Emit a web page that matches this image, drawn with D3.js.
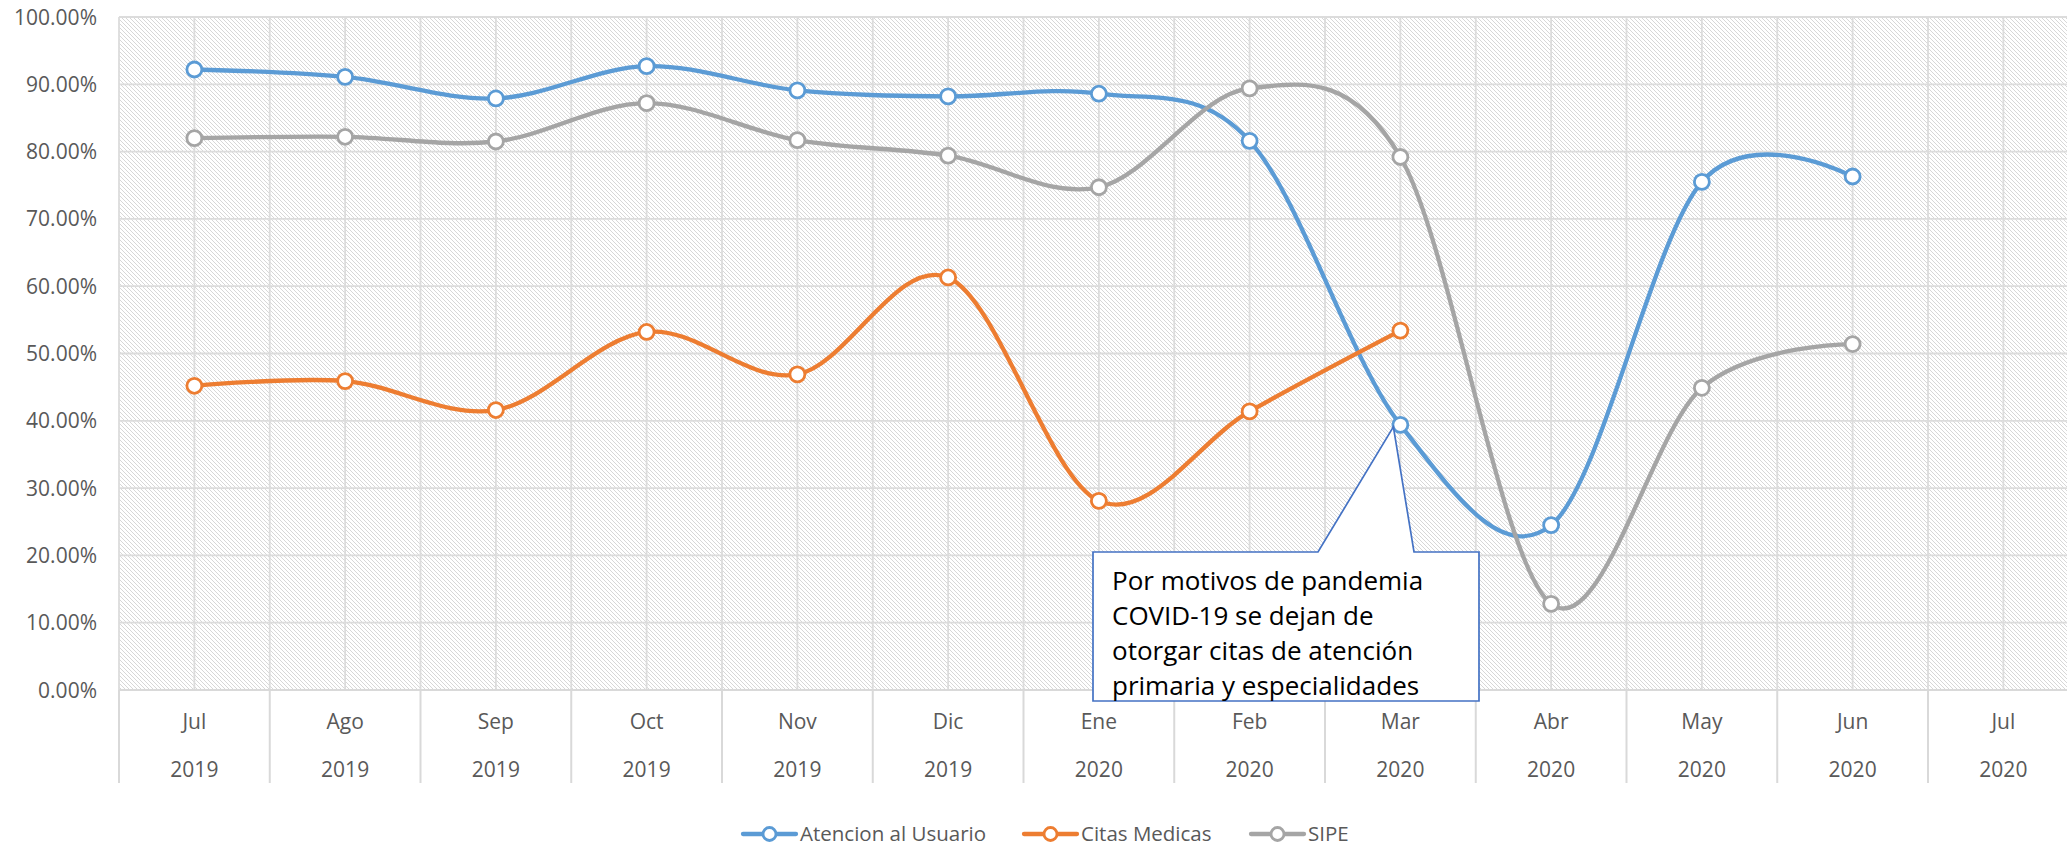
<!DOCTYPE html>
<html>
<head>
<meta charset="utf-8">
<script src="https://cdnjs.cloudflare.com/ajax/libs/d3/7.8.5/d3.min.js"></script>
<style>
  html, body { margin: 0; padding: 0; background: #fff; overflow: hidden; }
  svg { display: block; font-family: "Open Sans", sans-serif; }
  .tick-label { fill: #595959; font-size: 21px; }
  .legend-label { fill: #595959; font-size: 20.5px; }
  .note { fill: #000; font-size: 26px; }
</style>
</head>
<body>
<div id="chart"></div>
<script>
// data
var months = ["Jul", "Ago", "Sep", "Oct", "Nov", "Dic", "Ene", "Feb", "Mar", "Abr", "May", "Jun", "Jul"];
var years = ["2019", "2019", "2019", "2019", "2019", "2019", "2020", "2020", "2020", "2020", "2020", "2020", "2020"];
var atencionUsuario = [92.2, 91.1, 87.9, 92.7, 89.1, 88.2, 88.6, 81.6, 39.4, 24.5, 75.5, 76.3, null];
var citasMedicas = [45.2, 45.9, 41.6, 53.2, 46.9, 61.3, 28.1, 41.4, 53.4, null, null, null, null];
var sipe = [82.0, 82.2, 81.5, 87.2, 81.7, 79.4, 74.7, 89.4, 79.2, 12.8, 44.9, 51.4, null];
var seriesNames = ["Atencion al Usuario", "Citas Medicas", "SIPE"];
var seriesColors = ["#5B9BD5", "#ED7D31", "#A5A5A5"];
var yTicks = [0, 10, 20, 30, 40, 50, 60, 70, 80, 90, 100];
var noteLines = [
  "Por motivos de pandemia",
  "COVID-19 se dejan de",
  "otorgar citas de atención",
  "primaria y especialidades"
];

var width = 2067, height = 847;
var margins = { top: 17, left: 119, bottom: 157 };
var catWidth = 150.75;
var chartBottom = height - margins.bottom; // 690

var keys = months.map((m, i) => i);

var svg = d3.select("#chart").append("svg")
  .attr("width", width)
  .attr("height", height);

// hatch fill like the excel pattern
svg.append("defs").html(`
  <pattern id="hatch" patternUnits="userSpaceOnUse" width="4" height="4">
    <rect width="4" height="4" fill="#fff"/>
    <path d="M-1,-1 L5,5 M-1,3 L1,5 M3,-1 L5,1" stroke="#d2d2d2" stroke-width="0.9"/>
  </pattern>`);

var xScale = d3.scaleBand()
  .domain(keys)
  .range([margins.left, margins.left + catWidth * months.length]);
var xc = i => xScale(i) + xScale.bandwidth() / 2;

var yScale = d3.scaleLinear()
  .domain([0, 100])
  .range([chartBottom, margins.top]);

var plotRight = xScale.range()[1];

// plot area
svg.append("rect")
  .attr("x", margins.left)
  .attr("y", margins.top)
  .attr("width", plotRight - margins.left)
  .attr("height", chartBottom - margins.top)
  .attr("fill", "url(#hatch)");

// grid
var grid = svg.append("g").attr("class", "grid")
  .attr("stroke", "#dcdcdc")
  .attr("stroke-width", 1.8);

grid.selectAll("line.h")
  .data(yTicks.slice(1))
  .enter().append("line")
  .attr("x1", margins.left).attr("x2", plotRight)
  .attr("y1", d => yScale(d)).attr("y2", d => yScale(d));

// vertical lines on every category center and boundary
var halfSteps = d3.range(0, months.length * 2 + 1);
grid.selectAll("line.v")
  .data(halfSteps)
  .enter().append("line")
  .attr("x1", d => margins.left + d * catWidth / 2)
  .attr("x2", d => margins.left + d * catWidth / 2)
  .attr("y1", margins.top)
  .attr("y2", chartBottom);

// x axis line + separators
var axisG = svg.append("g")
  .attr("stroke", "#d9d9d9")
  .attr("stroke-width", 2);
axisG.append("line")
  .attr("x1", margins.left).attr("x2", plotRight)
  .attr("y1", chartBottom).attr("y2", chartBottom);
axisG.selectAll("line.sep")
  .data(d3.range(0, months.length + 1))
  .enter().append("line")
  .attr("x1", d => margins.left + d * catWidth)
  .attr("x2", d => margins.left + d * catWidth)
  .attr("y1", chartBottom)
  .attr("y2", chartBottom + 93);

// y labels
svg.append("g")
  .selectAll("text")
  .data(yTicks)
  .enter().append("text")
  .attr("class", "tick-label")
  .attr("x", 97)
  .attr("y", d => yScale(d))
  .attr("dy", "0.36em")
  .attr("text-anchor", "end")
  .text(d => d3.format(".2f")(d) + "%");

// x labels
var xl = svg.append("g");
xl.selectAll("text.m")
  .data(keys)
  .enter().append("text")
  .attr("class", "tick-label")
  .attr("x", d => xc(d))
  .attr("y", 729)
  .attr("text-anchor", "middle")
  .text(d => months[d]);
xl.selectAll("text.yr")
  .data(keys)
  .enter().append("text")
  .attr("class", "tick-label")
  .attr("x", d => xc(d))
  .attr("y", 777)
  .attr("text-anchor", "middle")
  .text(d => years[d]);

// lines
var allSeries = [atencionUsuario, citasMedicas, sipe];

var line = d3.line()
  .defined(d => d != null)
  .x((d, i) => xc(i))
  .y(d => yScale(d))
  .curve(d3.curveCardinal.tension(0));

var seriesG = svg.append("g");
allSeries.forEach((vals, s) => {
  var g = seriesG.append("g");
  g.append("path")
    .attr("d", line(vals))
    .attr("fill", "none")
    .attr("stroke", seriesColors[s])
    .attr("stroke-width", 4.3)
    .attr("stroke-linecap", "round");
  g.selectAll("circle")
    .data(vals.map((v, i) => ({ v, i })).filter(d => d.v != null))
    .enter().append("circle")
    .attr("cx", d => xc(d.i))
    .attr("cy", d => yScale(d.v))
    .attr("r", 7.5)
    .attr("fill", "#fff")
    .attr("stroke", seriesColors[s])
    .attr("stroke-width", 2.8);
});

// callout
var tipX = xc(8) - 7, tipY = yScale(atencionUsuario[8]) + 2;
var box = { x0: 1093, y0: 552, x1: 1479, y1: 701 };
svg.append("path")
  .attr("d", `M${box.x0},${box.y0} L1318,${box.y0} L${tipX},${tipY} L1414,${box.y0} L${box.x1},${box.y0} L${box.x1},${box.y1} L${box.x0},${box.y1} Z`)
  .attr("fill", "#fff")
  .attr("stroke", "#4472C4")
  .attr("stroke-width", 1.7);

svg.append("g")
  .selectAll("text")
  .data(noteLines)
  .enter().append("text")
  .attr("class", "note")
  .attr("x", 1112)
  .attr("y", (d, i) => 590 + i * 35)
  .text(d => d);

// legend
var legendX = [743, 1024, 1251];
var legend = svg.append("g");
seriesNames.forEach((name, s) => {
  var g = legend.append("g").attr("transform", `translate(${legendX[s]},834)`);
  g.append("line")
    .attr("x1", 0).attr("x2", 53)
    .attr("stroke", seriesColors[s])
    .attr("stroke-width", 4.3)
    .attr("stroke-linecap", "round");
  g.append("circle")
    .attr("cx", 26.5).attr("r", 6.5)
    .attr("fill", "#fff")
    .attr("stroke", seriesColors[s])
    .attr("stroke-width", 2.8);
  g.append("text")
    .attr("class", "legend-label")
    .attr("x", 57)
    .attr("dy", "0.36em")
    .text(name);
});
</script>
</body>
</html>
